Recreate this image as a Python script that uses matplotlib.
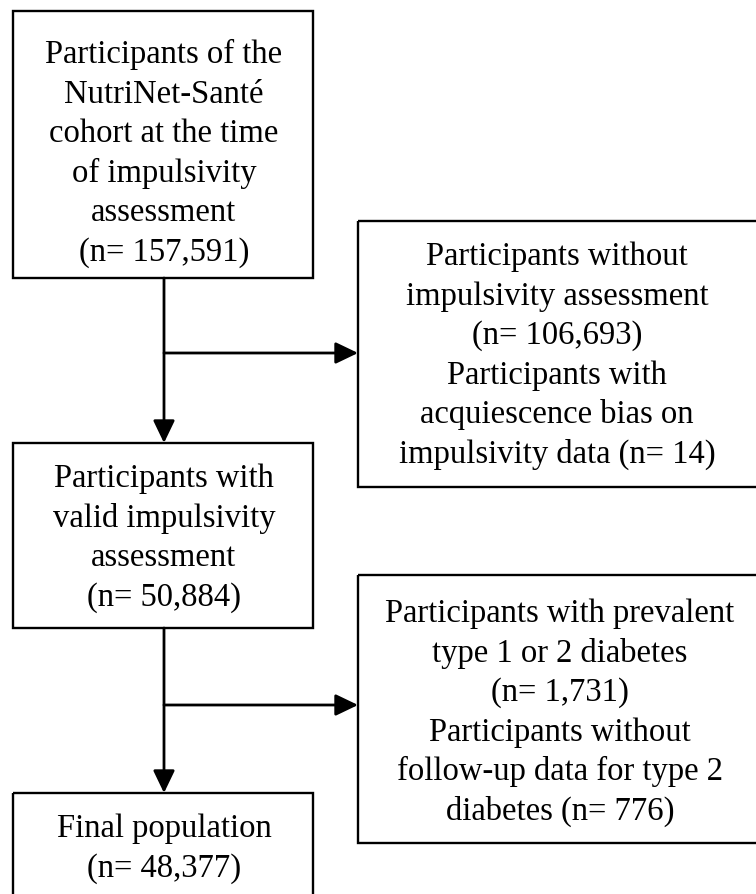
import matplotlib
matplotlib.use("Agg")
import matplotlib.pyplot as plt
from matplotlib.patches import Rectangle

# participant counts at each step of the selection
n_cohort = 157591
n_no_assessment = 106693
n_acquiescence = 14
n_valid = 50884
n_prevalent_diabetes = 1731
n_no_followup = 776
n_final = 48377

# text of each box, one entry per line
box_cohort = ["Participants of the", "NutriNet-Santé", "cohort at the time",
              "of impulsivity", "assessment", f"(n= {n_cohort:,})"]
box_excl1 = ["Participants without", "impulsivity assessment",
             f"(n= {n_no_assessment:,})", "Participants with",
             "acquiescence bias on", f"impulsivity data (n= {n_acquiescence})"]
box_valid = ["Participants with", "valid impulsivity", "assessment",
             f"(n= {n_valid:,})"]
box_excl2 = ["Participants with prevalent", "type 1 or 2 diabetes",
             f"(n= {n_prevalent_diabetes:,})", "Participants without",
             "follow-up data for type 2", f"diabetes (n= {n_no_followup})"]
box_final = ["Final population", f"(n= {n_final:,})"]

W, H = 756, 894
fig = plt.figure(figsize=(W / 100, H / 100), dpi=100)
ax = fig.add_axes([0, 0, 1, 1])
ax.set_xlim(0, W)
ax.set_ylim(H, 0)
ax.axis("off")

FONT = "Liberation Serif"
FS = 23.5
STEP = 39.6


def draw_box(x0, y0, x1, y1, lines, cx, first_baseline):
    ax.add_patch(Rectangle((x0, y0), x1 - x0, y1 - y0, fill=False,
                           edgecolor="black", lw=1.7, clip_on=False))
    for i, line in enumerate(lines):
        ax.text(cx, first_baseline + i * STEP, line, ha="center",
                va="baseline", fontsize=FS, family=FONT, color="black")


def arrow(x0, y0, x1, y1):
    ax.annotate("", xy=(x1, y1), xytext=(x0, y0),
                arrowprops=dict(arrowstyle="-|>,head_length=1.25,head_width=0.6",
                                mutation_scale=11, shrinkA=0, shrinkB=0,
                                lw=2, color="black"))


draw_box(13, 11, 313, 278, box_cohort, 164, 63)
draw_box(358, 221, 780, 487, box_excl1, 557, 265)
draw_box(13, 443, 313, 628, box_valid, 164, 487)
draw_box(358, 575, 780, 843, box_excl2, 560, 622)
draw_box(13, 793, 313, 920, box_final, 164, 837)

# main flow and exclusion branches
arrow(164, 278, 164, 443)
arrow(164, 353, 358, 353)
arrow(164, 628, 164, 793)
arrow(164, 705, 358, 705)

fig.savefig("out.png", dpi=100, facecolor="white")
